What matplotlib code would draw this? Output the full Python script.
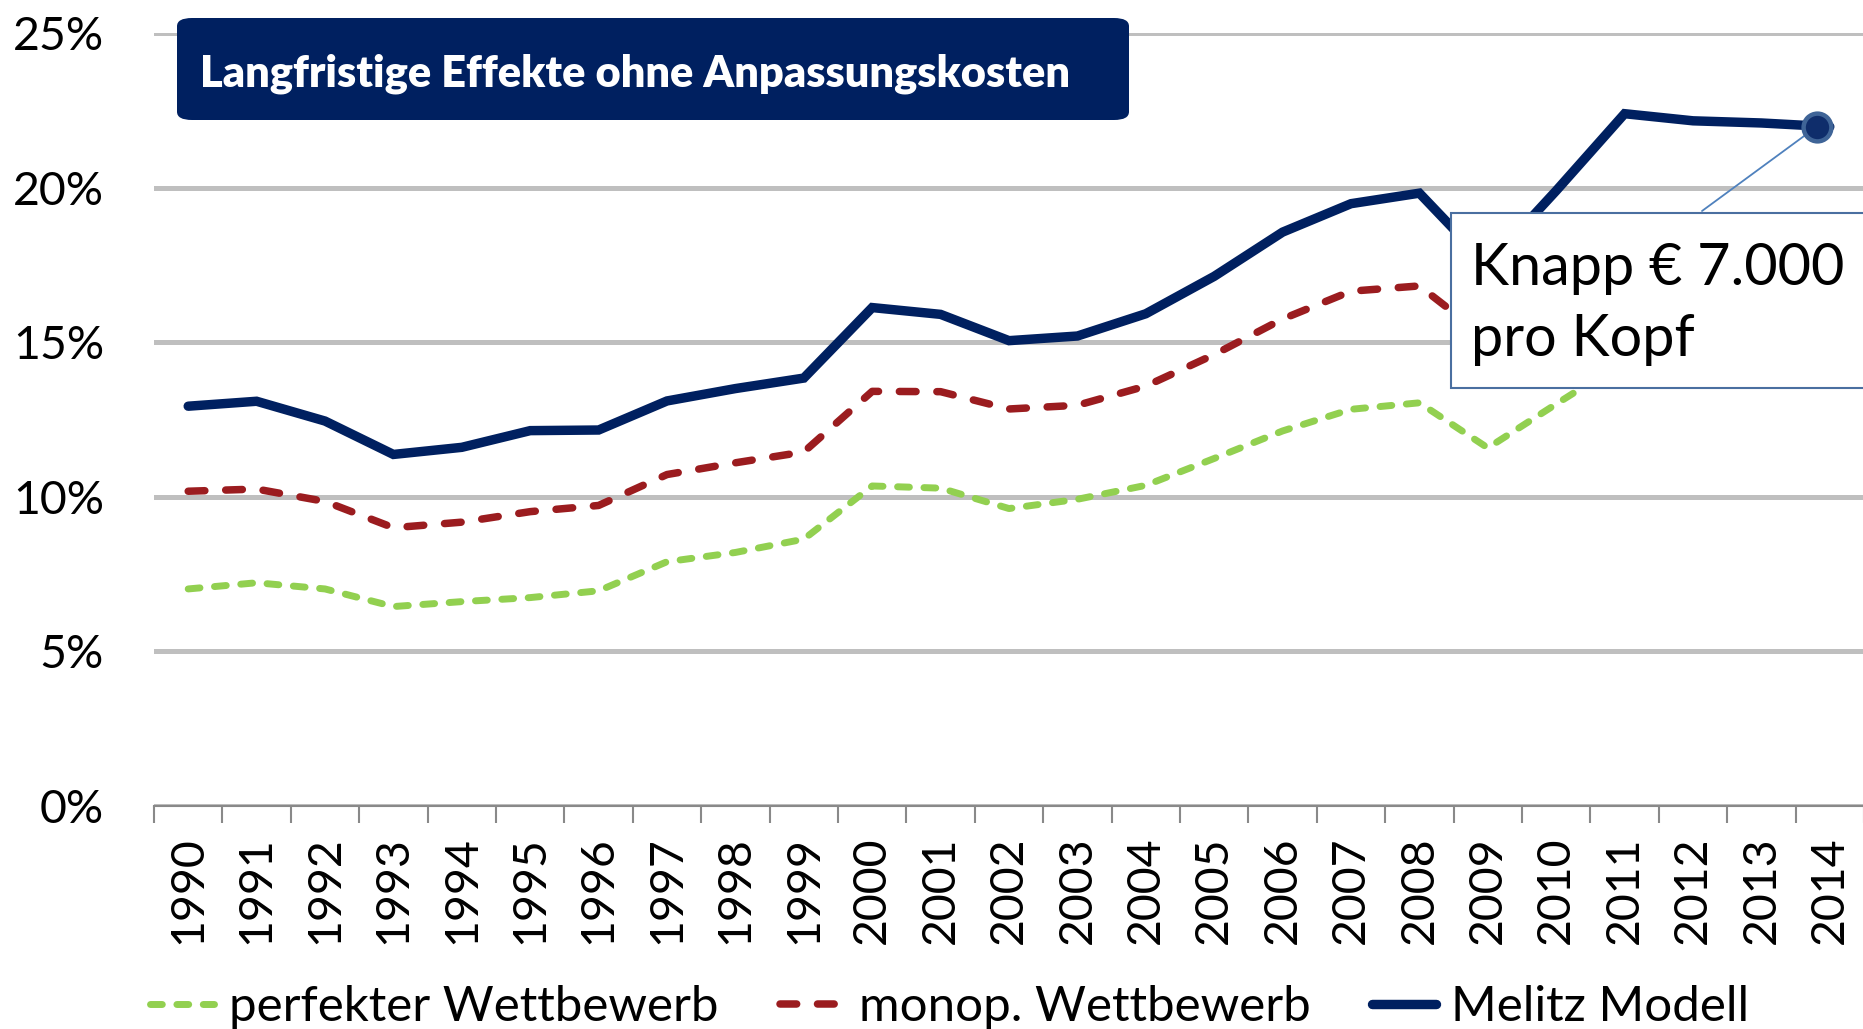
import matplotlib.pyplot as plt
from matplotlib.patches import FancyBboxPatch, Rectangle
from matplotlib.transforms import ScaledTranslation

plt.rcParams['font.family'] = ['Lato', 'DejaVu Sans']
plt.rcParams['lines.scale_dashes'] = False

# data
years = [str(y) for y in range(1990, 2015)]
perfekt = [7.02, 7.22, 7.02, 6.45, 6.61, 6.74, 6.96, 7.9, 8.2, 8.63,
           10.35, 10.28, 9.62, 9.92, 10.37, 11.24, 12.13, 12.83, 13.04, 11.58,
           13.0, 14.4, 14.25, 14.2, 14.1]
monop = [10.18, 10.25, 9.85, 9.0, 9.18, 9.52, 9.72, 10.72, 11.1, 11.45,
         13.41, 13.4, 12.84, 12.96, 13.58, 14.6, 15.75, 16.65, 16.82, 15.1,
         16.9, 19.0, 18.8, 18.75, 18.65]
melitz = [12.93, 13.09, 12.45, 11.37, 11.6, 12.14, 12.16, 13.1, 13.5, 13.84,
          16.12, 15.9, 15.05, 15.2, 15.92, 17.13, 18.56, 19.48, 19.82, 17.5,
          19.9, 22.39, 22.16, 22.09, 21.97]
y_ticks = [0, 5, 10, 15, 20, 25]
labels = ['perfekter Wettbewerb', 'monop. Wettbewerb', 'Melitz Modell']
title = 'Langfristige Effekte ohne Anpassungskosten'
note = 'Knapp € 7.000\npro Kopf'

navy = '#002060'
red = '#9B1C1F'
green = '#92D050'

W, H = 1863, 1029
fig = plt.figure(figsize=(W / 100, H / 100), dpi=100)
ax = fig.add_axes([154 / W, (H - 806) / H, 1710 / W, (806 - 33) / H])

x = list(range(len(years)))
l1, = ax.plot(x, perfekt, color=green, lw=5, dashes=(8.5, 10.5),
              dash_capstyle='round', dash_joinstyle='round', clip_on=False, zorder=3)
l2, = ax.plot(x, monop, color=red, lw=5.4, dashes=(12, 15),
              dash_capstyle='round', dash_joinstyle='round', clip_on=False, zorder=3)
l3, = ax.plot(x, melitz, color=navy, lw=6.8, solid_capstyle='round',
              solid_joinstyle='miter', clip_on=False, zorder=4)

ax.set_xlim(-0.5, len(years) - 0.5)
ax.set_ylim(0, 25)

ax.set_yticks(y_ticks)
ax.set_yticklabels([f'{v}%' for v in y_ticks], fontsize=33.5)
ax.tick_params(axis='y', length=0, pad=36)
ax.yaxis.grid(True, color='#BFBFBF', lw=3.6)
ax.set_axisbelow(True)

ax.set_xticks([i - 0.5 for i in range(len(years) + 1)])
ax.set_xticklabels([])
ax.set_xticks(x, minor=True)
ax.set_xticklabels(years, minor=True, rotation=90, fontsize=33.5, va='top')
ax.tick_params(axis='x', which='major', length=12, width=1.5, color='#898989')
ax.tick_params(axis='x', which='minor', length=0, pad=22)

for s in ['top', 'right', 'left']:
    ax.spines[s].set_visible(False)
ax.spines['bottom'].set_color('#898989')
ax.spines['bottom'].set_linewidth(1.5)

# title box
fig.patches.append(FancyBboxPatch((177 / W, (H - 120) / H), (1129 - 177) / W, 102 / H,
                                  boxstyle='round,pad=0,rounding_size=0.008',
                                  transform=fig.transFigure, facecolor=navy,
                                  edgecolor='none', zorder=5))
fig.text(200 / W, (H - 86) / H, title, color='white', fontsize=31.2, fontweight='heavy',
         ha='left', va='baseline', zorder=6)

# callout marker, shifted a little left of the last point as in the original
shift = ax.transData + ScaledTranslation(-13 / 100, 0, fig.dpi_scale_trans)
ax.plot(x[-1], melitz[-1], 'o', ms=20, mfc='#0F2D6B', mec='#3F6497', mew=3.2,
        clip_on=False, zorder=6, transform=shift)
ax.annotate('', xy=(x[-1], melitz[-1]), xycoords=shift,
            xytext=(1702, H - 211), textcoords='figure pixels',
            arrowprops=dict(arrowstyle='-', color='#4F81BD', lw=1.3, shrinkA=0, shrinkB=0),
            zorder=5)
fig.patches.append(Rectangle((1451 / W, (H - 388) / H), 500 / W, 175 / H,
                             transform=fig.transFigure, facecolor='white',
                             edgecolor='#4A6FA0', lw=1.5, zorder=5))
fig.text(1471 / W, (H - 304) / H, note, fontsize=41.5, ha='left', va='center',
         linespacing=1.4, zorder=6)

fig.legend([l1, l2, l3], labels, loc='center left', ncol=3,
           bbox_to_anchor=(150 / W, (H - 1007) / H), frameon=False, fontsize=35.5,
           handlelength=1.3, handletextpad=0.3, columnspacing=1.25,
           borderpad=0, borderaxespad=0)

fig.savefig('out.png', dpi=100)
